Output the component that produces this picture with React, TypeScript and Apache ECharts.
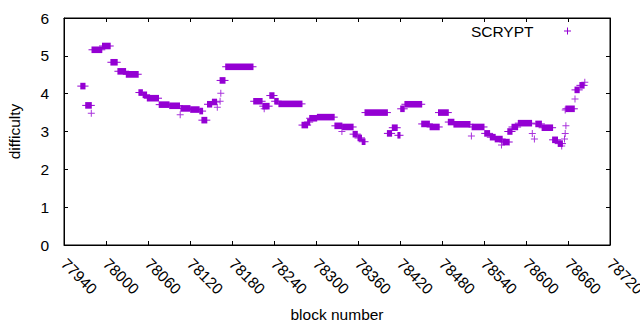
import React, { useEffect, useRef } from "react";
import * as echarts from "echarts";

// Runs of consecutive blocks that share the same difficulty
const runStart = [77964, 77971, 77980, 77995, 78007, 78017, 78029, 78047, 78053, 78059, 78076, 78091, 78107, 78121, 78134, 78137, 78145, 78152, 78163, 78171, 78211, 78224, 78234, 78241, 78247, 78280, 78288, 78291, 78302, 78327, 78338, 78353, 78360, 78366, 78370, 78402, 78409, 78417, 78421, 78427, 78451, 78463, 78475, 78489, 78497, 78523, 78541, 78549, 78556, 78567, 78574, 78580, 78589, 78614, 78623, 78638, 78646, 78657, 78670, 78677];
const runEnd = [77970, 77979, 77994, 78006, 78016, 78028, 78046, 78052, 78058, 78075, 78090, 78105, 78120, 78133, 78138, 78144, 78151, 78158, 78170, 78210, 78223, 78233, 78240, 78246, 78280, 78288, 78291, 78301, 78326, 78337, 78353, 78359, 78365, 78370, 78402, 78408, 78416, 78420, 78426, 78451, 78462, 78476, 78489, 78497, 78520, 78540, 78548, 78556, 78566, 78576, 78580, 78588, 78608, 78622, 78638, 78645, 78652, 78669, 78676, 78683];
const runValue = [4.20, 3.69, 5.16, 5.26, 4.83, 4.59, 4.51, 4.03, 3.97, 3.88, 3.71, 3.68, 3.61, 3.58, 3.54, 3.30, 3.72, 3.78, 4.35, 4.71, 3.80, 3.67, 3.95, 3.80, 3.73, 3.17, 3.25, 3.35, 3.38, 3.15, 3.12, 2.93, 2.83, 2.73, 3.50, 2.95, 3.10, 2.90, 3.60, 3.72, 3.20, 3.12, 3.50, 3.25, 3.19, 3.12, 2.95, 2.85, 2.80, 2.72, 3.00, 3.12, 3.22, 3.20, 3.10, 2.78, 2.68, 3.60, 4.10, 4.22];

// Single isolated blocks
const pointBlock = [77979, 78106, 78159, 78163, 78164, 78226, 78337, 78522, 78565, 78609, 78612, 78651, 78655, 78656, 78657, 78656, 78670, 78684];
const pointValue = [3.48, 3.44, 3.64, 3.80, 4.01, 3.60, 3.00, 2.88, 2.64, 2.95, 2.80, 2.62, 2.80, 2.95, 3.15, 3.57, 3.86, 4.30];

const xMin = 77940;
const xMax = 78720;
const xStep = 60;
const yMin = 0;
const yMax = 6;

const COLOR = "#9400d3";
const FONT = "'Liberation Sans', Arial, sans-serif";
const FS = 15.5;
const PLUS = "path://M3,0h1v3h3v1h-3v3h-1v-3h-3v-1h3z";

export default function App() {
  const ref = useRef<HTMLDivElement>(null);
  useEffect(() => {
    document.body.style.margin = "0";
    if (!ref.current) return;
    const chart = echarts.init(ref.current, null, { renderer: "svg" });
    const runs = runStart.map((s, i) => [s, runEnd[i], runValue[i]]);
    const pts = pointBlock.map((b, i) => [b, pointValue[i]]);
    const axisCommon = {
      type: "value" as const,
      axisLine: { show: true, onZero: false, lineStyle: { color: "#000", width: 1 } },
      axisTick: { show: true, inside: true, length: 4, lineStyle: { color: "#000" } },
      splitLine: { show: false },
    };
    chart.setOption({
      animation: false,
      grid: {
        left: 64,
        right: 30,
        top: 18,
        bottom: 85,
        containLabel: false,
        outerBoundsMode: "none",
        show: true,
        borderColor: "#000",
        borderWidth: 1,
        backgroundColor: "transparent",
      },
      legend: {
        data: [{ name: "SCRYPT", icon: PLUS }],
        align: "right",
        right: 64,
        top: 18,
        itemWidth: 58,
        itemHeight: 7,
        textStyle: { fontFamily: FONT, fontSize: FS, color: "#000" },
        itemStyle: { color: COLOR },
      },
      xAxis: [
        {
          ...axisCommon,
          min: xMin,
          max: xMax,
          interval: xStep,
          position: "bottom",
          name: "block number",
          nameLocation: "middle",
          nameGap: 61,
          nameTextStyle: { fontFamily: FONT, fontSize: FS, color: "#000" },
          axisLabel: {
            rotate: -45,
            margin: 16,
            fontFamily: FONT,
            fontSize: FS,
            color: "#000",
            showMinLabel: true,
            showMaxLabel: true,
            formatter: (v: number) => String(v),
          },
        },
        {
          ...axisCommon,
          min: xMin,
          max: xMax,
          interval: xStep,
          position: "top",
          axisLabel: { show: false },
        },
      ],
      yAxis: [
        {
          ...axisCommon,
          min: yMin,
          max: yMax,
          interval: 1,
          position: "left",
          name: "difficulty",
          nameLocation: "middle",
          nameGap: 42,
          nameRotate: 90,
          nameTextStyle: { fontFamily: FONT, fontSize: FS, color: "#000" },
          axisLabel: { margin: 15, fontFamily: FONT, fontSize: FS, color: "#000" },
        },
        {
          ...axisCommon,
          min: yMin,
          max: yMax,
          interval: 1,
          position: "right",
          axisLabel: { show: false },
        },
      ],
      series: [
        {
          name: "SCRYPT",
          type: "custom",
          xAxisIndex: 0,
          yAxisIndex: 0,
          data: runs,
          encode: { x: [0, 1], y: 2 },
          itemStyle: { color: COLOR },
          renderItem: (params: any, api: any) => {
            const v = api.value(2);
            const s = api.coord([api.value(0), v]);
            const e = api.coord([api.value(1), v]);
            const arm = 3.5;
            const half = 3.3;
            return {
              type: "group",
              children: [
                {
                  type: "rect",
                  shape: { x: s[0] - 0.5, y: s[1] - half, width: e[0] - s[0] + 1, height: half * 2 },
                  style: { fill: COLOR },
                },
                {
                  type: "rect",
                  shape: { x: s[0] - arm, y: s[1] - 0.5, width: e[0] - s[0] + arm * 2, height: 1 },
                  style: { fill: COLOR },
                },
              ],
            };
          },
        },
        {
          name: "SCRYPT",
          type: "scatter",
          xAxisIndex: 0,
          yAxisIndex: 0,
          data: pts,
          symbol: PLUS,
          symbolSize: 7,
          itemStyle: { color: COLOR },
        },
        {
          name: "mirror",
          type: "scatter",
          xAxisIndex: 1,
          yAxisIndex: 1,
          data: [],
        },
      ],
    });
    return () => chart.dispose();
  }, []);
  return <div ref={ref} style={{ width: 640, height: 330 }} />;
}
